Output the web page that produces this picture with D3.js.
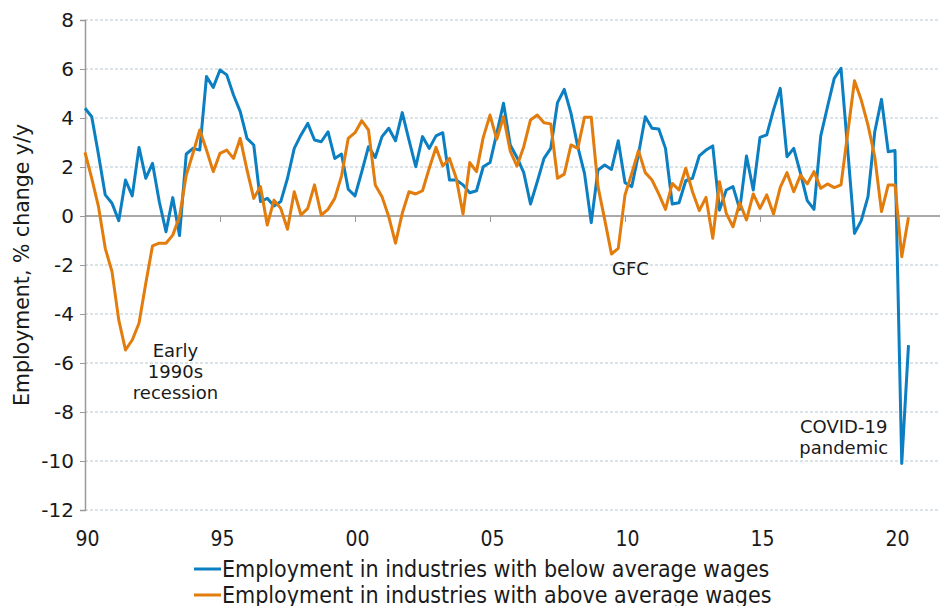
<!DOCTYPE html>
<html lang="en">
<head>
  <meta charset="UTF-8">
  <title>Employment by industry wage level</title>
  <script src="https://d3js.org/d3.v7.min.js"></script>
  <style>
    body {
      margin: 0;
      background: #fff;
    }
    .tick text, .lbl {
      font-family: 'DejaVu Sans', Verdana, sans-serif;
      fill: #1a1a1a;
    }
    .narrow {
      font-family: 'DejaVu Sans Condensed', 'DejaVu Sans', sans-serif;
      font-stretch: condensed;
      fill: #1a1a1a;
    }
  </style>
</head>
<body>
  <div id="chart"></div>

  <script>
    // quarterly, % change y/y, starting 1990 Q1
    const startYear = 1990;

    const belowAvg = [
      4.40, 4.05, 2.5, 0.86, 0.52, -0.19, 1.47, 0.82, 2.80, 1.54,
      2.15, 0.59, -0.64, 0.75, -0.80, 2.53, 2.76, 2.69, 5.69, 5.25,
      5.96, 5.76, 4.94, 4.26, 3.17, 2.90, 0.59, 0.72, 0.41, 0.59,
      1.54, 2.76, 3.31, 3.78, 3.10, 3.03, 3.44, 2.35, 2.53, 1.09,
      0.82, 1.80, 2.83, 2.39, 3.24, 3.58, 3.07, 4.22, 3.10, 2.01,
      3.24, 2.76, 3.27, 3.40, 1.47, 1.47, 1.27, 0.95, 1.03, 2.01,
      2.18, 3.37, 4.60, 2.90, 2.39, 1.77, 0.49, 1.40, 2.35, 2.76,
      4.63, 5.17, 4.19, 2.83, 1.74, -0.27, 1.88, 2.08, 1.90, 3.07,
      1.36, 1.20, 2.53, 4.05, 3.58, 3.55, 2.76, 0.49, 0.54, 1.44,
      1.54, 2.45, 2.69, 2.86, 0.24, 1.06, 1.20, 0.27, 2.45, 1.06,
      3.21, 3.31, 4.33, 5.21, 2.42, 2.76, 1.74, 0.63, 0.27, 3.27,
      4.46, 5.62, 6.03, 2.69, -0.71, -0.19, 0.79, 3.44, 4.76, 2.62,
      2.67, -10.1, -5.27
    ];

    const aboveAvg = [
      2.6, 1.54, 0.38, -1.32, -2.27, -4.24, -5.47, -5.06, -4.38, -2.75,
      -1.22, -1.11, -1.11, -0.78, -0.03, 1.67, 2.56, 3.51, 2.69, 1.81,
      2.56, 2.69, 2.35, 3.17, 1.88, 0.72, 1.20, -0.37, 0.65, 0.31,
      -0.54, 0.99, 0.04, 0.31, 1.27, 0.04, 0.27, 0.72, 1.63, 3.17,
      3.40, 3.89, 3.51, 1.27, 0.79, -0.03, -1.11, 0.11, 0.99, 0.90,
      1.03, 1.95, 2.80, 2.04, 2.35, 1.54, 0.08, 2.18, 1.81, 3.21,
      4.12, 3.13, 4.05, 2.65, 2.04, 2.83, 3.92, 4.12, 3.81, 3.76,
      1.54, 1.71, 2.90, 2.76, 4.03, 4.03, 1.20, -0.16, -1.55, -1.32,
      0.86, 1.74, 2.67, 1.77, 1.47, 0.90, 0.27, 1.33, 1.06, 1.95,
      0.99, 0.22, 0.76, -0.91, 1.40, 0.11, -0.44, 0.54, -0.16, 0.90,
      0.31, 0.86, 0.08, 1.17, 1.77, 0.99, 1.67, 1.31, 1.81, 1.13,
      1.31, 1.16, 1.27, 3.4, 5.52, 4.73, 3.71, 2.42, 0.18, 1.27,
      1.27, -1.66, -0.05
    ];

    const tickYears = [1990, 1995, 2000, 2005, 2010, 2015, 2020];
    const tickLabels = ['90', '95', '00', '05', '10', '15', '20'];
    const yTicks = [-12, -10, -8, -6, -4, -2, 0, 2, 4, 6, 8];

    const seriesNames = [
      'Employment in industries with below average wages',
      'Employment in industries with above average wages'
    ];
    const colors = ['#0b7fc1', '#e27c0c'];

    const annotations = [
      { lines: ['Early', '1990s', 'recession'], year: 1993.35, value: -5.75 },
      { lines: ['GFC'], year: 2010.2, value: -2.4 },
      { lines: ['COVID-19', 'pandemic'], year: 2018.1, value: -8.85 }
    ];

    const width = 940, height = 606;
    const plotLeft = 85, plotRight = 940;

    const x = d3.scaleLinear().domain([1990, 2020]).range([85, 895]);
    const y = d3.scaleLinear().domain([-12, 8]).range([510, 20]);

    const svg = d3.select('#chart')
      .append('svg')
      .attr('width', width)
      .attr('height', height);

    // gridlines
    svg.append('g')
      .selectAll('line')
      .data(yTicks.filter(d => d !== 0))
      .enter()
      .append('line')
      .attr('x1', plotLeft)
      .attr('x2', plotRight)
      .attr('y1', d => y(d))
      .attr('y2', d => y(d))
      .attr('stroke', '#b8c8d4')
      .attr('stroke-width', 1)
      .attr('stroke-dasharray', '3,2');

    // y axis
    const yAxis = d3.axisLeft(y)
      .tickValues(yTicks)
      .tickSize(5)
      .tickPadding(6)
      .tickFormat(d => String(d));

    const yg = svg.append('g')
      .attr('transform', `translate(${plotLeft},0)`)
      .call(yAxis);
    yg.select('.domain').attr('stroke', '#999').attr('stroke-width', 1.5);
    yg.selectAll('.tick line').attr('stroke', '#999');
    yg.selectAll('.tick text').style('font-size', '20px');

    // zero line with year ticks
    svg.append('line')
      .attr('x1', plotLeft)
      .attr('x2', plotRight)
      .attr('y1', y(0))
      .attr('y2', y(0))
      .attr('stroke', '#8c8c8c')
      .attr('stroke-width', 1.5);

    const xTickAxis = d3.axisBottom(x)
      .tickValues(tickYears)
      .tickSize(6)
      .tickFormat('');
    const xg = svg.append('g')
      .attr('transform', `translate(0,${y(0)})`)
      .call(xTickAxis);
    xg.select('.domain').remove();
    xg.selectAll('.tick line').attr('stroke', '#999');

    // year labels along the bottom
    const xLabelAxis = d3.axisBottom(x)
      .tickValues(tickYears)
      .tickSize(0)
      .tickPadding(0)
      .tickFormat((d, i) => tickLabels[i]);
    const xl = svg.append('g')
      .attr('transform', `translate(2,${y(-12) + 21})`)
      .call(xLabelAxis);
    xl.select('.domain').remove();
    xl.selectAll('.tick text')
      .attr('class', 'narrow')
      .style('font-size', '21px');

    // lines
    const line = d3.line()
      .x((d, i) => x(startYear + i / 4))
      .y(d => y(d));

    [belowAvg, aboveAvg].forEach((s, k) => {
      svg.append('path')
        .datum(s)
        .attr('fill', 'none')
        .attr('stroke', colors[k])
        .attr('stroke-width', 3)
        .attr('stroke-linejoin', 'round')
        .attr('d', line);
    });

    // annotations
    annotations.forEach(a => {
      const t = svg.append('text')
        .attr('class', 'lbl')
        .attr('text-anchor', 'middle')
        .style('font-size', '18px')
        .attr('x', x(a.year))
        .attr('y', y(a.value));
      a.lines.forEach((ln, j) => {
        t.append('tspan')
          .attr('x', x(a.year))
          .attr('dy', j === 0 ? 0 : 21)
          .text(ln);
      });
    });

    // y axis title
    svg.append('text')
      .attr('class', 'lbl')
      .attr('text-anchor', 'middle')
      .attr('transform', 'rotate(-90)')
      .attr('x', -265)
      .attr('y', 29)
      .style('font-size', '20.5px')
      .text('Employment,  % change y/y');

    // legend
    const legend = svg.append('g')
      .attr('transform', 'translate(194,569)');

    seriesNames.forEach((name, k) => {
      const row = legend.append('g')
        .attr('transform', `translate(0,${k * 26})`);
      row.append('line')
        .attr('x1', 0)
        .attr('x2', 27)
        .attr('stroke', colors[k])
        .attr('stroke-width', 3);
      row.append('text')
        .attr('class', 'narrow')
        .attr('x', 28)
        .attr('dy', '0.36em')
        .style('font-size', '23px')
        .text(name);
    });
  </script>
</body>
</html>
